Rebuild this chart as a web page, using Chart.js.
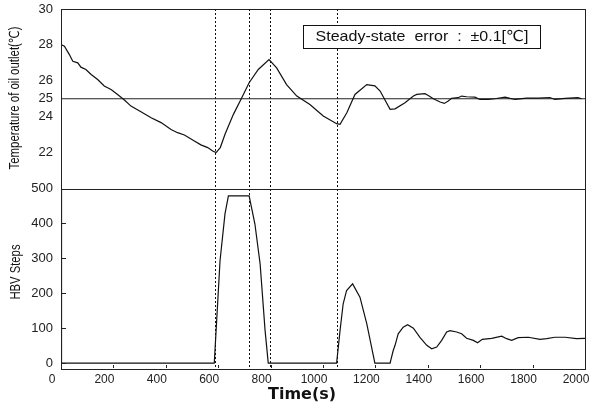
<!DOCTYPE html>
<html>
<head>
<meta charset="utf-8">
<script src="https://cdn.jsdelivr.net/npm/chart.js@4.4.0/dist/chart.umd.min.js"></script>
<style>
  html, body { margin: 0; padding: 0; background: #fff; }
  #chart { display: block; }
</style>
</head>
<body>
<canvas id="chart" width="596" height="405"></canvas>
<script>
// Oil outlet temperature (top panel)
const tempTime = [0, 13, 32, 45, 64, 76, 95, 115, 140, 165, 191, 216, 242, 267, 305, 344, 382, 420, 445, 471,
  509, 534, 560, 579, 592, 608, 626, 658, 690, 718, 753, 794, 823, 861, 900, 950, 1001, 1052, 1065, 1091,
  1122, 1167, 1198, 1218, 1256, 1275, 1313, 1345, 1358, 1389, 1402, 1421, 1447, 1463, 1478, 1491, 1516,
  1529, 1548, 1580, 1599, 1630, 1656, 1695, 1714, 1733, 1777, 1822, 1866, 1885, 1924, 1973, 1987];
const tempValue = [28.02, 27.93, 27.46, 27.09, 27.0, 26.76, 26.63, 26.35, 26.07, 25.71, 25.52, 25.24, 24.93,
  24.59, 24.28, 23.94, 23.67, 23.29, 23.11, 22.98, 22.65, 22.43, 22.28, 22.09, 22.0, 22.28, 23.02, 24.13,
  25.06, 25.89, 26.63, 27.18, 26.72, 25.79, 25.15, 24.68, 24.04, 23.61, 23.57, 24.22, 25.24, 25.79, 25.72,
  25.43, 24.41, 24.44, 24.78, 25.15, 25.24, 25.28, 25.18, 25.0, 24.82, 24.74, 24.87, 25.02, 25.06, 25.15,
  25.11, 25.09, 24.96, 24.96, 25.0, 25.09, 25.02, 24.96, 25.04, 25.04, 25.07, 24.96, 25.02, 25.06, 25.0];

// HBV steps (bottom panel)
const hbvTime = [0, 2, 585, 607, 626, 639, 718, 740, 760, 779, 791, 1052, 1065, 1077, 1090, 1113, 1141, 1167,
  1198, 1256, 1268, 1275, 1287, 1306, 1323, 1345, 1370, 1396, 1415, 1434, 1453, 1472, 1485, 1510, 1529,
  1548, 1574, 1590, 1608, 1644, 1682, 1701, 1720, 1745, 1784, 1828, 1854, 1885, 1924, 1968, 2000];
const hbvValue = [500, 0, 0, 293, 428, 479, 479, 399, 284, 93, 0, 0, 93, 170, 208, 227, 189, 113,
  0, 0, 36, 51, 84, 103, 110, 100, 74, 51, 41, 46, 65, 89, 93, 89, 84,
  71, 65, 58, 68, 71, 77, 70, 65, 73, 74, 68, 70, 74, 74, 70, 71];

// set point line and event markers
const setpointTime = [0, 2000];
const setpointValue = [25, 25];
const eventTimes = [588, 718, 798, 1053];

const xTicks = [0, 200, 400, 600, 800, 1000, 1200, 1400, 1600, 1800, 2000];
const tempTicks = [22, 24, 25, 26, 28, 30];
const hbvTicks = [0, 100, 200, 300, 400, 500];

const noteText = 'Steady-state  error  :  \u00b10.1[\u2103]';
const tempTitle = 'Temperature of oil outlet(\u2103)';
const hbvTitle = 'HBV Steps';
const xTitle = 'Time(s)';

function pts(xs, ys) {
  return xs.map((t, i) => ({ x: t, y: ys[i] }));
}

// draw text squeezed/stretched to a given length
function fitText(ctx, text, x, y, len, font, rotate) {
  ctx.save();
  ctx.font = font;
  const w = ctx.measureText(text).width;
  ctx.translate(x, y);
  if (rotate) ctx.rotate(-Math.PI / 2);
  ctx.scale(len / w, 1);
  ctx.textAlign = 'center';
  ctx.textBaseline = 'middle';
  ctx.fillText(text, 0, 0);
  ctx.restore();
}

const decor = {
  id: 'decor',
  beforeDatasetsDraw(chart) {
    const { ctx, chartArea: a, scales: { x } } = chart;
    ctx.save();
    ctx.strokeStyle = '#111';
    ctx.lineWidth = 1;
    ctx.setLineDash([2, 2]);
    eventTimes.forEach(t => {
      const px = Math.round(x.getPixelForValue(t)) + 0.5;
      ctx.beginPath();
      ctx.moveTo(px, a.top);
      ctx.lineTo(px, a.bottom);
      ctx.stroke();
    });
    ctx.restore();
  },
  afterDraw(chart) {
    const { ctx, chartArea: a, scales: { x, yT, yH } } = chart;
    ctx.save();
    ctx.strokeStyle = '#222';
    ctx.lineWidth = 1;
    // panel frames
    ctx.strokeRect(a.left + 0.5, Math.round(yT.top) + 0.5, a.right - a.left, Math.round(yT.bottom - yT.top));
    ctx.strokeRect(a.left + 0.5, Math.round(yH.top) + 0.5, a.right - a.left, Math.round(yH.bottom - yH.top));
    // inward tick marks
    ctx.beginPath();
    xTicks.forEach(v => {
      const px = Math.round(x.getPixelForValue(v)) + 0.5;
      ctx.moveTo(px, yH.bottom);
      ctx.lineTo(px, yH.bottom - 3);
    });
    hbvTicks.forEach(v => {
      const py = Math.round(yH.getPixelForValue(v)) + 0.5;
      ctx.moveTo(a.left, py);
      ctx.lineTo(a.left + 5, py);
    });
    ctx.stroke();

    // note box
    ctx.fillStyle = '#fff';
    ctx.fillRect(303, 25, 237, 23);
    ctx.strokeStyle = '#111';
    ctx.strokeRect(303.5, 25.5, 237, 23);
    ctx.fillStyle = '#111';
    fitText(ctx, noteText, 422, 37, 213, '15px "Liberation Sans", "DejaVu Sans", sans-serif', false);

    // axis titles
    ctx.fillStyle = '#111';
    fitText(ctx, tempTitle, 15, 98, 143, '14px "Liberation Sans", "DejaVu Sans", sans-serif', true);
    fitText(ctx, hbvTitle, 16, 272, 55, '14px "Liberation Sans", sans-serif', true);
    fitText(ctx, xTitle, 302, 395, 68, 'bold 16px "DejaVu Sans", sans-serif', false);
    ctx.restore();
  }
};

const tickFont = { family: '"Liberation Sans", Arial, sans-serif', size: 13 };
const noPad = s => { s.paddingLeft = 0; s.paddingRight = 0; s.paddingTop = 0; s.paddingBottom = 0; };

new Chart(document.getElementById('chart'), {
  type: 'line',
  data: {
    datasets: [
      {
        label: 'Temperature',
        data: pts(tempTime, tempValue),
        yAxisID: 'yT',
        borderColor: '#111',
        borderWidth: 1.2,
        pointRadius: 0,
        tension: 0
      },
      {
        label: 'Set point',
        data: pts(setpointTime, setpointValue),
        yAxisID: 'yT',
        borderColor: '#222',
        borderWidth: 1,
        pointRadius: 0
      },
      {
        label: 'HBV Steps',
        data: pts(hbvTime, hbvValue),
        yAxisID: 'yH',
        borderColor: '#111',
        borderWidth: 1.2,
        pointRadius: 0,
        tension: 0
      }
    ]
  },
  options: {
    responsive: false,
    animation: false,
    layout: { padding: { top: 9, right: 11, left: 0, bottom: 0 } },
    plugins: { legend: { display: false }, tooltip: { enabled: false } },
    scales: {
      x: {
        type: 'linear',
        min: 0,
        max: 2000,
        afterBuildTicks: s => { s.ticks = xTicks.map(v => ({ value: v })); },
        afterFit: s => { s.height = 37; noPad(s); },
        grid: { display: false, drawTicks: false },
        border: { display: false },
        ticks: {
          padding: 4, labelOffset: -9, color: '#222', maxRotation: 0,
          font: { family: tickFont.family, size: 12 },
          callback: v => String(v)
        }
      },
      yH: {
        type: 'linear',
        position: 'left',
        stack: 'panels',
        stackWeight: 1,
        min: -14,
        max: 500,
        afterBuildTicks: s => { s.ticks = hbvTicks.map(v => ({ value: v })); },
        afterFit: s => { s.width = 61; noPad(s); },
        grid: { display: false, drawTicks: false },
        border: { display: false },
        ticks: { padding: 8, color: '#222', font: tickFont, callback: v => String(v) }
      },
      yT: {
        type: 'linear',
        position: 'left',
        stack: 'panels',
        stackWeight: 1,
        min: 20,
        max: 30,
        afterBuildTicks: s => { s.ticks = tempTicks.map(v => ({ value: v })); },
        afterFit: s => { s.width = 61; noPad(s); },
        grid: { display: false, drawTicks: false },
        border: { display: false },
        ticks: { padding: 8, color: '#222', font: tickFont, callback: v => String(v) }
      }
    }
  },
  plugins: [decor]
});
</script>
</body>
</html>
